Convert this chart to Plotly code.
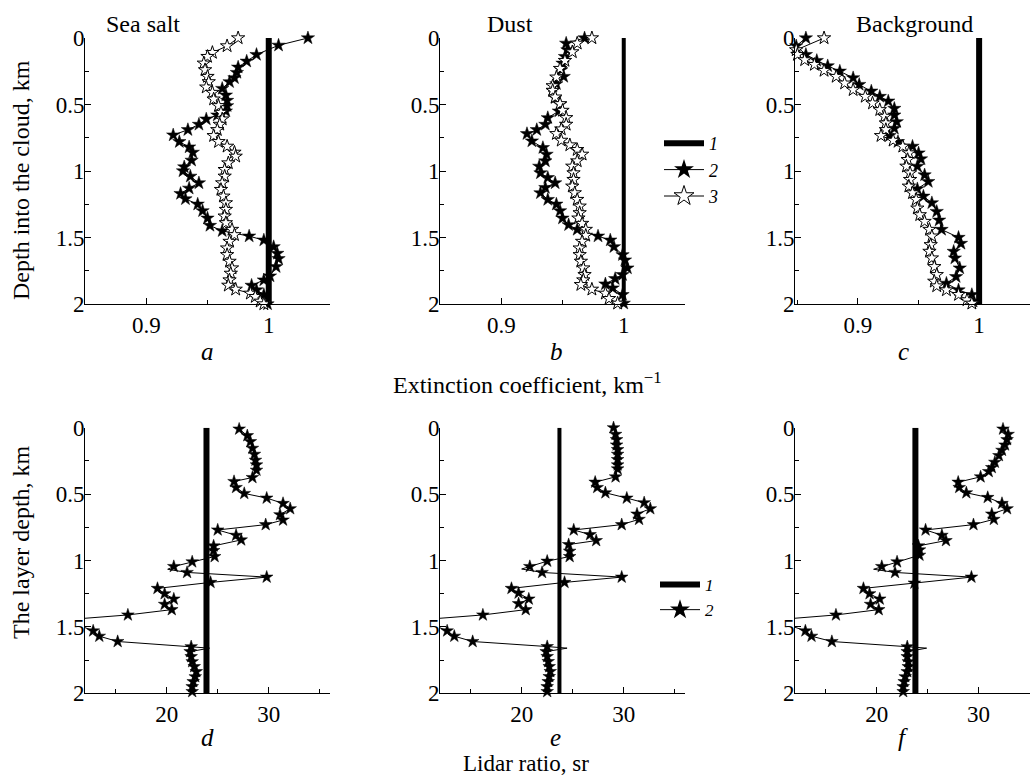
import plotly.graph_objects as go

W, H = 1030, 778
FONT = "Liberation Serif, Times New Roman, serif"

# ---------------- Top row: extinction coefficient (km^-1) vs depth into the cloud (km)
REF_DEPTH = [0.0, 2.0]
REF_EXT = 1.0

SEA_SALT_2_DEPTH = [0.00, 0.055, 0.125, 0.175, 0.22, 0.26, 0.30, 0.33, 0.38, 0.43, 0.47, 0.51, 0.55, 0.58, 0.61,
                    0.65, 0.69, 0.73, 0.78, 0.82, 0.86, 0.92, 0.97, 1.00, 1.04, 1.09, 1.13, 1.17, 1.21, 1.25,
                    1.30, 1.355, 1.41, 1.45, 1.49, 1.52, 1.57, 1.62, 1.66, 1.72, 1.79, 1.82, 1.86, 1.895, 1.93, 2.00]
SEA_SALT_2_EXT = [1.032, 1.008, 0.990, 0.982, 0.975, 0.974, 0.972, 0.968, 0.962, 0.965, 0.966, 0.966, 0.965, 0.958, 0.949,
                  0.943, 0.934, 0.922, 0.927, 0.935, 0.938, 0.937, 0.931, 0.930, 0.936, 0.943, 0.935, 0.928, 0.932, 0.942,
                  0.946, 0.950, 0.952, 0.962, 0.984, 0.996, 1.004, 1.007, 1.008, 1.006, 1.001, 0.996, 0.986, 0.990, 0.996, 0.999]

SEA_SALT_3_DEPTH = [0.00, 0.06, 0.11, 0.14, 0.19, 0.24, 0.29, 0.33, 0.37, 0.41, 0.46, 0.51, 0.56, 0.61, 0.65,
                    0.69, 0.735, 0.78, 0.815, 0.86, 0.89, 0.94, 0.99, 1.04, 1.09, 1.14, 1.19, 1.24, 1.29, 1.34,
                    1.39, 1.44, 1.48, 1.53, 1.58, 1.63, 1.68, 1.73, 1.77, 1.82, 1.86, 1.89, 1.92, 1.945, 1.98, 2.00]
SEA_SALT_3_EXT = [0.975, 0.966, 0.954, 0.950, 0.947, 0.948, 0.950, 0.951, 0.949, 0.954, 0.955, 0.959, 0.961, 0.962, 0.960,
                  0.958, 0.955, 0.959, 0.966, 0.972, 0.973, 0.967, 0.964, 0.964, 0.962, 0.961, 0.963, 0.965, 0.965, 0.964,
                  0.965, 0.970, 0.972, 0.968, 0.966, 0.966, 0.968, 0.970, 0.969, 0.968, 0.967, 0.973, 0.985, 0.989, 0.993, 0.996]

DUST_2_DEPTH = [0.00, 0.04, 0.09, 0.14, 0.19, 0.24, 0.29, 0.345, 0.395, 0.45, 0.50, 0.55, 0.60, 0.65, 0.69,
                0.72, 0.775, 0.825, 0.875, 0.925, 0.965, 1.015, 1.05, 1.09, 1.125, 1.165, 1.215, 1.25, 1.30, 1.355,
                1.405, 1.44, 1.49, 1.52, 1.57, 1.63, 1.67, 1.73, 1.78, 1.81, 1.85, 1.88, 1.93, 1.995]
DUST_2_EXT = [0.968, 0.953, 0.954, 0.952, 0.950, 0.949, 0.951, 0.945, 0.942, 0.944, 0.948, 0.947, 0.938, 0.936, 0.929,
              0.921, 0.925, 0.934, 0.937, 0.936, 0.931, 0.932, 0.938, 0.944, 0.936, 0.932, 0.938, 0.945, 0.948, 0.950,
              0.955, 0.962, 0.979, 0.989, 0.992, 0.999, 1.001, 1.003, 0.999, 0.993, 0.985, 0.991, 0.999, 1.000]

DUST_3_DEPTH = [0.00, 0.04, 0.105, 0.17, 0.23, 0.295, 0.36, 0.395, 0.445, 0.495, 0.545, 0.60, 0.65, 0.685, 0.72,
                0.77, 0.805, 0.84, 0.875, 0.925, 0.965, 1.015, 1.065, 1.115, 1.165, 1.215, 1.265, 1.315, 1.355, 1.395,
                1.44, 1.485, 1.53, 1.58, 1.63, 1.68, 1.73, 1.78, 1.82, 1.855, 1.89, 1.92, 1.96, 1.995]
DUST_3_EXT = [0.974, 0.962, 0.958, 0.952, 0.948, 0.945, 0.942, 0.942, 0.944, 0.948, 0.950, 0.953, 0.953, 0.949, 0.945,
              0.949, 0.956, 0.962, 0.966, 0.962, 0.958, 0.959, 0.959, 0.958, 0.960, 0.962, 0.964, 0.964, 0.963, 0.966,
              0.969, 0.969, 0.966, 0.964, 0.964, 0.965, 0.967, 0.968, 0.967, 0.965, 0.974, 0.985, 0.988, 0.995]

BACK_2_DEPTH = [0.00, 0.06, 0.125, 0.17, 0.21, 0.25, 0.30, 0.35, 0.40, 0.44, 0.475, 0.53, 0.58, 0.63, 0.68,
                0.735, 0.78, 0.815, 0.865, 0.91, 0.965, 1.03, 1.08, 1.135, 1.19, 1.24, 1.305, 1.37, 1.44, 1.50,
                1.545, 1.605, 1.655, 1.73, 1.795, 1.845, 1.895, 1.93, 1.98]
BACK_2_EXT = [0.857, 0.849, 0.857, 0.866, 0.875, 0.885, 0.896, 0.901, 0.911, 0.918, 0.925, 0.930, 0.930, 0.932, 0.930,
              0.926, 0.933, 0.945, 0.950, 0.952, 0.949, 0.955, 0.958, 0.949, 0.954, 0.961, 0.965, 0.967, 0.969, 0.983,
              0.985, 0.979, 0.980, 0.984, 0.981, 0.973, 0.983, 0.994, 0.995]

BACK_3_DEPTH = [0.00, 0.09, 0.125, 0.165, 0.20, 0.245, 0.29, 0.34, 0.39, 0.44, 0.49, 0.54, 0.59, 0.64, 0.69,
                0.735, 0.77, 0.815, 0.865, 0.915, 0.965, 1.015, 1.065, 1.115, 1.165, 1.215, 1.28, 1.33, 1.38, 1.44,
                1.49, 1.555, 1.605, 1.655, 1.72, 1.78, 1.83, 1.865, 1.895, 1.93, 1.97, 1.995]
BACK_3_EXT = [0.872, 0.849, 0.850, 0.856, 0.864, 0.872, 0.882, 0.889, 0.896, 0.906, 0.912, 0.918, 0.922, 0.923, 0.923,
              0.919, 0.929, 0.937, 0.942, 0.941, 0.940, 0.943, 0.943, 0.942, 0.945, 0.948, 0.949, 0.951, 0.955, 0.959,
              0.961, 0.960, 0.959, 0.961, 0.963, 0.965, 0.963, 0.965, 0.973, 0.983, 0.990, 0.994]

# ---------------- Bottom row: lidar ratio (sr) vs layer depth (km)
REF_LR = [23.9, 23.7, 23.8]   # curve 1 in panels d, e, f

SEA_SALT_LR_DEPTH = [0.01, 0.06, 0.105, 0.155, 0.20, 0.245, 0.28, 0.32, 0.375, 0.405, 0.45, 0.495, 0.53, 0.57, 0.61,
                     0.655, 0.695, 0.73, 0.77, 0.81, 0.845, 0.89, 0.925, 0.97, 1.01, 1.045, 1.09, 1.125, 1.165, 1.21,
                     1.25, 1.29, 1.33, 1.37, 1.41, 1.53, 1.57, 1.61, 1.649, 1.686, 1.724, 1.762, 1.799, 1.837, 1.875,
                     1.912, 1.95, 1.987]
SEA_SALT_LR = [27.1, 27.9, 28.2, 28.4, 28.6, 28.7, 28.8, 28.8, 28.4, 26.6, 26.8, 27.6, 29.8, 31.4, 32.1,
               31.1, 31.4, 29.7, 25.0, 26.8, 27.3, 24.6, 24.6, 24.7, 22.5, 20.7, 22.0, 29.8, 24.3, 19.1,
               19.8, 20.7, 19.8, 20.5, 16.2, 12.8, 13.4, 15.2, 22.4, 22.3, 22.4, 22.5, 22.7, 22.9, 22.8,
               22.6, 22.5, 22.5]
# turning points of the drawn curve that carry no marker
SEA_SALT_LR_CURVE_DEPTH = [1.066, 1.45, 1.49, 1.66]
SEA_SALT_LR_CURVE = [20.1, 9.5, 11.5, 24.2]

DUST_LR_DEPTH = [0.00, 0.05, 0.09, 0.13, 0.165, 0.20, 0.24, 0.28, 0.31, 0.37, 0.41, 0.45, 0.49, 0.53, 0.565,
                 0.61, 0.65, 0.69, 0.73, 0.77, 0.805, 0.85, 0.88, 0.93, 0.97, 1.005, 1.045, 1.09, 1.125, 1.165,
                 1.21, 1.245, 1.29, 1.325, 1.37, 1.41, 1.53, 1.57, 1.61, 1.648, 1.686, 1.723, 1.761, 1.799, 1.836,
                 1.874, 1.912, 1.95, 1.987]
DUST_LR = [29.0, 29.2, 29.3, 29.3, 29.4, 29.4, 29.4, 29.4, 29.4, 29.2, 27.2, 27.4, 28.2, 30.3, 32.0,
           32.6, 31.3, 31.5, 29.8, 25.1, 26.7, 27.3, 24.6, 24.7, 24.7, 22.5, 20.8, 22.0, 29.8, 24.2,
           19.0, 19.7, 20.7, 19.7, 20.4, 16.2, 12.7, 13.4, 15.2, 22.5, 22.4, 22.5, 22.6, 22.7, 22.8,
           22.7, 22.6, 22.5, 22.5]
DUST_LR_CURVE_DEPTH = [1.064, 1.45, 1.49, 1.66]
DUST_LR_CURVE = [20.0, 9.5, 11.5, 24.45]

BACK_LR_DEPTH = [0.01, 0.05, 0.09, 0.13, 0.17, 0.21, 0.26, 0.30, 0.33, 0.37, 0.41, 0.45, 0.49, 0.525, 0.57,
                 0.61, 0.65, 0.69, 0.73, 0.77, 0.81, 0.85, 0.89, 0.92, 0.96, 1.01, 1.045, 1.09, 1.125, 1.17,
                 1.21, 1.25, 1.29, 1.33, 1.37, 1.41, 1.53, 1.57, 1.61, 1.649, 1.686, 1.724, 1.762, 1.799, 1.837,
                 1.875, 1.912, 1.95, 1.987]
BACK_LR = [32.4, 32.9, 32.8, 32.6, 32.3, 32.0, 31.6, 31.3, 31.0, 30.2, 28.0, 28.1, 28.8, 30.9, 32.3,
           32.8, 31.3, 31.5, 29.5, 24.8, 26.4, 26.8, 24.1, 24.2, 24.2, 22.0, 20.5, 21.8, 29.3, 23.7,
           18.7, 19.3, 20.3, 19.4, 20.2, 16.0, 13.0, 13.6, 15.6, 23.0, 23.0, 23.0, 23.1, 23.1, 23.0,
           22.8, 22.7, 22.6, 22.6]
BACK_LR_CURVE_DEPTH = [1.066, 1.45, 1.49, 1.66]
BACK_LR_CURVE = [19.7, 9.5, 11.5, 24.9]

PANEL_TITLES = ["Sea salt", "Dust", "Background"]
PANEL_LETTERS = ["a", "b", "c", "d", "e", "f"]
DEPTH_TICKS = [0, 0.5, 1, 1.5, 2]

# ---------------- layout geometry (pixels)
COLS = [(85, 330), (440, 685), (795, 1030)]
TOP = (38, 304)
BOT = (427.7, 693.3)
TOP_RANGES = [[0.85, 1.05], [0.85, 1.05], [0.848, 1.042]]
BOT_RANGES = [[12, 36], [12, 36], [11.98, 35.05]]
REF_W = [6, 4, 6]


def fx(p):
    return p / W


def fy(p):
    return 1 - p / H


def merge(depth, vals, cdepth, cvals, size):
    pts = [(d, v, size) for d, v in zip(depth, vals)] + [(d, v, 0) for d, v in zip(cdepth, cvals)]
    pts.sort(key=lambda t: t[0])
    return [p[0] for p in pts], [p[1] for p in pts], [p[2] for p in pts]


fig = go.Figure()

top_data = [
    (SEA_SALT_2_DEPTH, SEA_SALT_2_EXT, SEA_SALT_3_DEPTH, SEA_SALT_3_EXT),
    (DUST_2_DEPTH, DUST_2_EXT, DUST_3_DEPTH, DUST_3_EXT),
    (BACK_2_DEPTH, BACK_2_EXT, BACK_3_DEPTH, BACK_3_EXT),
]
bot_data = [
    (SEA_SALT_LR_DEPTH, SEA_SALT_LR, SEA_SALT_LR_CURVE_DEPTH, SEA_SALT_LR_CURVE),
    (DUST_LR_DEPTH, DUST_LR, DUST_LR_CURVE_DEPTH, DUST_LR_CURVE),
    (BACK_LR_DEPTH, BACK_LR, BACK_LR_CURVE_DEPTH, BACK_LR_CURVE),
]

STAR_TOP = 10
STAR_BOT = 9.5

for i, (d2, e2, d3, e3) in enumerate(top_data):
    xa = "x" if i == 0 else f"x{i + 1}"
    ya = "y" if i == 0 else f"y{i + 1}"
    fig.add_trace(go.Scatter(x=[REF_EXT, REF_EXT], y=REF_DEPTH, mode="lines", xaxis=xa, yaxis=ya,
                             line=dict(color="black", width=REF_W[i]), showlegend=False, hoverinfo="skip"))
    fig.add_trace(go.Scatter(x=e2, y=d2, mode="lines+markers", xaxis=xa, yaxis=ya, cliponaxis=False,
                             line=dict(color="black", width=1),
                             marker=dict(symbol="star", size=STAR_TOP, color="black", opacity=1,
                                         line=dict(width=0.5, color="black")),
                             showlegend=False))
    fig.add_trace(go.Scatter(x=e3, y=d3, mode="lines+markers", xaxis=xa, yaxis=ya, cliponaxis=False,
                             line=dict(color="black", width=1),
                             marker=dict(symbol="star", size=STAR_TOP, color="white", opacity=1,
                                         line=dict(width=1, color="black")),
                             showlegend=False))

for i, (d, v, cd, cv) in enumerate(bot_data):
    xa = f"x{i + 4}"
    ya = f"y{i + 4}"
    fig.add_trace(go.Scatter(x=[REF_LR[i], REF_LR[i]], y=REF_DEPTH, mode="lines", xaxis=xa, yaxis=ya,
                             line=dict(color="black", width=REF_W[i]), showlegend=False, hoverinfo="skip"))
    yy, xx, ss = merge(d, v, cd, cv, STAR_BOT)
    fig.add_trace(go.Scatter(x=xx, y=yy, mode="lines+markers", xaxis=xa, yaxis=ya, cliponaxis=False,
                             line=dict(color="black", width=1),
                             marker=dict(symbol="star", size=ss, color="black", opacity=1, sizemode="diameter",
                                         line=dict(width=0.5, color="black")),
                             showlegend=False))

# legend entries (style samples only)
fig.add_trace(go.Scatter(x=[None], y=[None], mode="lines", name="<i>1</i>", legend="legend",
                         line=dict(color="black", width=6)))
fig.add_trace(go.Scatter(x=[None], y=[None], mode="lines+markers", name="<i>2</i>", legend="legend",
                         line=dict(color="black", width=1),
                         marker=dict(symbol="star", size=15, color="black", line=dict(width=0))))
fig.add_trace(go.Scatter(x=[None], y=[None], mode="lines+markers", name="<i>3</i>", legend="legend",
                         line=dict(color="black", width=1),
                         marker=dict(symbol="star", size=15, color="white", line=dict(width=1, color="black"))))
fig.add_trace(go.Scatter(x=[None], y=[None], mode="lines", name="<i>1</i>", legend="legend2",
                         xaxis="x4", yaxis="y4", line=dict(color="black", width=6)))
fig.add_trace(go.Scatter(x=[None], y=[None], mode="lines+markers", name="<i>2</i>", legend="legend2",
                         xaxis="x4", yaxis="y4", line=dict(color="black", width=1),
                         marker=dict(symbol="star", size=15, color="black", line=dict(width=0))))

TXT = 24
TICK = 23
tickfont = dict(family=FONT, size=TICK, color="black")
layout = dict(
    template="none",
    width=W, height=H, margin=dict(l=0, r=0, t=0, b=0, pad=0, autoexpand=False),
    paper_bgcolor="white", plot_bgcolor="white",
    showlegend=True,
    font=dict(family=FONT, size=TXT, color="black"),
)


def axis_common():
    return dict(showline=True, linecolor="black", linewidth=1, ticks="inside", ticklen=6, tickwidth=1,
                tickcolor="black", showgrid=False, zeroline=False, tickfont=tickfont, fixedrange=True,
                automargin=False, mirror=False)


for r, (row, ranges, dt, mdt, t0) in enumerate([(TOP, TOP_RANGES, 0.1, 0.05, 0.9), (BOT, BOT_RANGES, 10, 5, 20)]):
    for c in range(3):
        k = r * 3 + c + 1
        xk = "xaxis" if k == 1 else f"xaxis{k}"
        yk = "yaxis" if k == 1 else f"yaxis{k}"
        xa = axis_common()
        xa.update(domain=[fx(COLS[c][0]), fx(COLS[c][1])], range=ranges[c], anchor="y" if k == 1 else f"y{k}",
                  tick0=t0, dtick=dt,
                  minor=dict(ticks="inside", ticklen=4, tickcolor="black", tick0=t0, dtick=mdt, showgrid=False))
        ya = axis_common()
        ya.update(domain=[fy(row[1]), fy(row[0])], range=[2, 0], anchor="x" if k == 1 else f"x{k}",
                  tickvals=DEPTH_TICKS, ticktext=[f"{t:g}" for t in DEPTH_TICKS], ticklabelstandoff=-5,
                  minor=dict(ticks="inside", ticklen=4, tickcolor="black", tick0=0, dtick=0.25, showgrid=False))
        layout[xk] = xa
        layout[yk] = ya

layout["legend"] = dict(x=fx(659), y=fy(125), xanchor="left", yanchor="top", bgcolor="rgba(0,0,0,0)",
                        font=dict(family=FONT, size=18, color="black"), tracegroupgap=0, itemwidth=40,
                        borderwidth=0)
layout["legend2"] = dict(x=fx(655), y=fy(567), xanchor="left", yanchor="top", bgcolor="rgba(0,0,0,0)",
                         font=dict(family=FONT, size=17, color="black"), tracegroupgap=0, itemwidth=40,
                         borderwidth=0)

ann = []


def add_text(text, x, y, size=TXT, angle=0):
    ann.append(dict(text=text, x=fx(x), y=fy(y), xref="paper", yref="paper", xanchor="center",
                    yanchor="middle", showarrow=False, textangle=angle,
                    font=dict(family=FONT, size=size, color="black")))


for t, x in zip(PANEL_TITLES, [143, 510, 914]):
    add_text(t, x, 24)
for L, x in zip(PANEL_LETTERS[:3], [207, 556, 903]):
    add_text(f"<i>{L}</i>", x, 351, size=25)
for L, x in zip(PANEL_LETTERS[3:], [207, 555, 903]):
    add_text(f"<i>{L}</i>", x, 737, size=25)
add_text("Extinction coefficient, km<sup>−1</sup>", 527, 383)
add_text("Lidar ratio, sr", 526, 763, size=23)
add_text("Depth into the cloud, km", 21, 180, angle=-90)
add_text("The layer depth, km", 21, 542, angle=-90)
layout["annotations"] = ann

fig.update_layout(**layout)
fig.write_html("out.html", config={"displayModeBar": False, "staticPlot": True},
               post_script="document.body.style.margin='0';document.body.style.overflow='hidden';")
